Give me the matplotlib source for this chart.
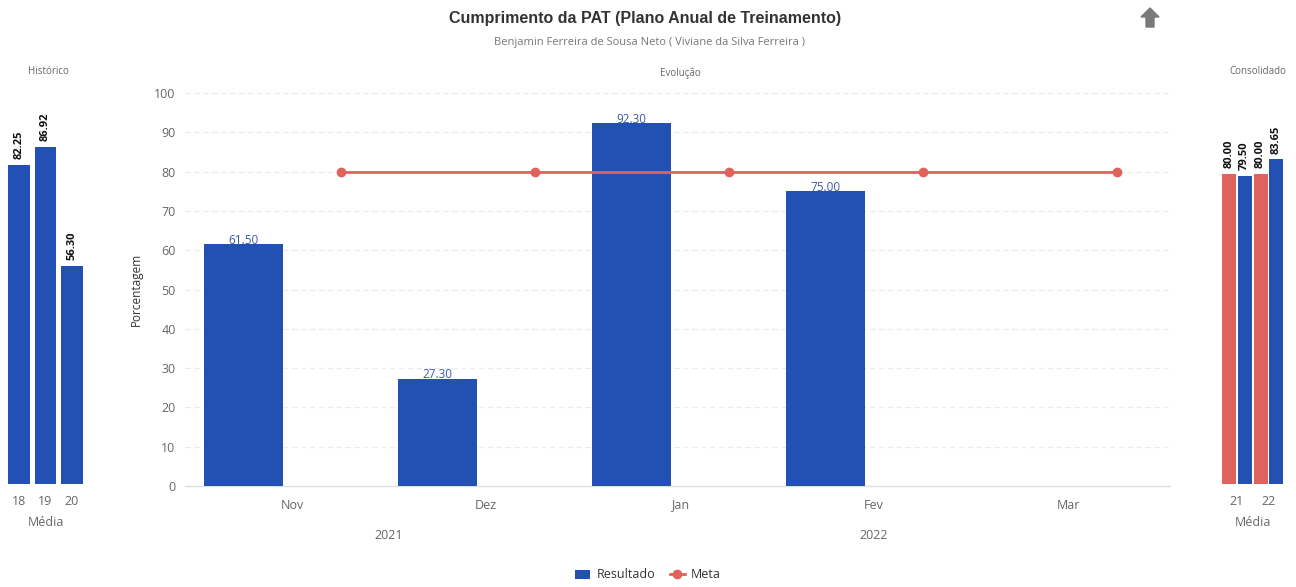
import numpy as np
import matplotlib.pyplot as plt
from matplotlib.patches import Polygon

# monthly evolution
months = ["Nov", "Dez", "Jan", "Fev", "Mar"]
years = ["2021", "2022"]
year_spans = [(0, 1), (2, 4)]
resultado = [61.50, 27.30, 92.30, 75.00, None]
meta = [80, 80, 80, 80, 80]

# historical averages
hist_labels = ["18", "19", "20"]
hist_values = [82.25, 86.92, 56.30]

# consolidated averages (meta, resultado) per year
cons_labels = ["21", "22"]
cons_meta = [80.00, 80.00]
cons_resultado = [79.50, 83.65]

BLUE = "#2350b3"
RED = "#e0625c"
GRAY = "#666666"

plt.rcParams["font.family"] = ["Open Sans", "DejaVu Sans"]

fig = plt.figure(figsize=(12.96, 5.87), dpi=100)

# ---- main chart ----
ax = fig.add_axes([0.1505, 0.172, 0.7485, 0.6695])
x = np.arange(len(months))
res_x = [i for i, v in enumerate(resultado) if v is not None]
res_v = [v for v in resultado if v is not None]
bars = ax.bar(np.array(res_x) - 0.25, res_v, width=0.41, color=BLUE, zorder=3,
              label="Resultado")
for xi, v in zip(res_x, res_v):
    ax.text(xi - 0.25, v - 0.6, f"{v:.2f}", ha="center", va="bottom",
            fontsize=8.5, color="#3a5aa8", zorder=4)
line, = ax.plot(x + 0.25, meta, color=RED, lw=2, marker="o", ms=6, zorder=4,
                label="Meta")

ax.set_xlim(-0.5, len(months) - 0.5)
ax.set_ylim(0, 100)
ax.set_yticks(np.arange(0, 101, 10))
ax.set_xticks(x)
ax.set_xticklabels(months)
ax.tick_params(axis="both", length=0, labelsize=9, colors=GRAY)
ax.tick_params(axis="x", pad=9)
ax.tick_params(axis="y", pad=14)
for yv in np.arange(10, 101, 10):
    ax.axhline(yv, xmin=-0.01, xmax=1.005, color="#ebebeb", lw=0.8,
               ls=(0, (5, 3)), zorder=1, clip_on=False)
ax.axhline(0, xmin=-0.01, xmax=1.005, color="#dddddd", lw=1, zorder=2,
           clip_on=False)
for s in ax.spines.values():
    s.set_visible(False)
ax.set_ylabel("Porcentagem", fontsize=8.5, color="#333333", labelpad=8)
for yr, (a, b) in zip(years, year_spans):
    ax.text((a + b) / 2, -0.125, yr, transform=ax.get_xaxis_transform(),
            ha="center", va="center", fontsize=9, color=GRAY)
ax.set_title("Evolução", fontsize=7, color=GRAY, pad=12)

# ---- historical panel ----
axh = fig.add_axes([0.0044, 0.1755, 0.0614, 0.661])
hx = np.arange(len(hist_labels))
axh.bar(hx, hist_values, width=0.8, color=BLUE)
for xi, v in zip(hx, hist_values):
    axh.text(xi, v + 1.5, f"{v:.2f}", rotation=90, ha="center", va="bottom",
             fontsize=8, fontweight="bold", color="#111111")
axh.set_xlim(-0.5, len(hist_labels) - 0.5)
axh.set_ylim(0, 100)
axh.set_xticks(hx)
axh.set_xticklabels(hist_labels)
axh.set_yticks([])
axh.tick_params(axis="x", length=0, labelsize=9, colors=GRAY, pad=8)
for s in axh.spines.values():
    s.set_visible(False)
axh.set_xlabel("Média", fontsize=9, color=GRAY, labelpad=6)
fig.text(48 / 1296, 1 - 72 / 587, "Histórico", ha="center", va="center",
         fontsize=7, color=GRAY)

# ---- consolidated panel ----
axc = fig.add_axes([0.942, 0.1755, 0.049, 0.661])
cx = np.arange(len(cons_labels))
axc.bar(cx - 0.25, cons_meta, width=0.44, color=RED)
axc.bar(cx + 0.25, cons_resultado, width=0.44, color=BLUE)
for xi, v in zip(cx - 0.25, cons_meta):
    axc.text(xi, v + 1.5, f"{v:.2f}", rotation=90, ha="center", va="bottom",
             fontsize=8, fontweight="bold", color="#111111")
for xi, v in zip(cx + 0.25, cons_resultado):
    axc.text(xi, v + 1.5, f"{v:.2f}", rotation=90, ha="center", va="bottom",
             fontsize=8, fontweight="bold", color="#111111")
axc.set_xlim(-0.5, len(cons_labels) - 0.5)
axc.set_ylim(0, 100)
axc.set_xticks(cx)
axc.set_xticklabels(cons_labels)
axc.set_yticks([])
axc.tick_params(axis="x", length=0, labelsize=9, colors=GRAY, pad=8)
for s in axc.spines.values():
    s.set_visible(False)
axc.set_xlabel("Média", fontsize=9, color=GRAY, labelpad=6)
fig.text(1258 / 1296, 1 - 72 / 587, "Consolidado", ha="center", va="center",
         fontsize=7, color=GRAY)

# ---- titles ----
fig.text(645 / 1296, 1 - 18 / 587, "Cumprimento da PAT (Plano Anual de Treinamento)",
         ha="center", va="center", fontsize=11.5, fontweight="bold",
         color="#333333", family=["Liberation Sans", "DejaVu Sans"])
fig.text(650 / 1296, 1 - 42 / 587,
         "Benjamin Ferreira de Sousa Neto ( Viviane da Silva Ferreira )",
         ha="center", va="center", fontsize=8, color="#777777")

# up-arrow icon in the corner
cx0, cy0 = 1150, 18
arrow_px = [(0, -10), (9, -1), (4, -1), (4, 9), (-4, 9), (-4, -1), (-9, -1)]
fig.patches.append(Polygon(
    [((cx0 + dx) / 1296, 1 - (cy0 + dy) / 587) for dx, dy in arrow_px],
    closed=True, transform=fig.transFigure, color="#7a7a7a", figure=fig))

# legend
fig.legend([bars, line], ["Resultado", "Meta"], loc="center",
           bbox_to_anchor=(648 / 1296, 1 - 575 / 587),
           ncol=2, frameon=False, fontsize=9, handlelength=1.2,
           columnspacing=1.2, handletextpad=0.5, labelcolor="#333333")

fig.savefig("out.png", dpi=100, facecolor="white")
